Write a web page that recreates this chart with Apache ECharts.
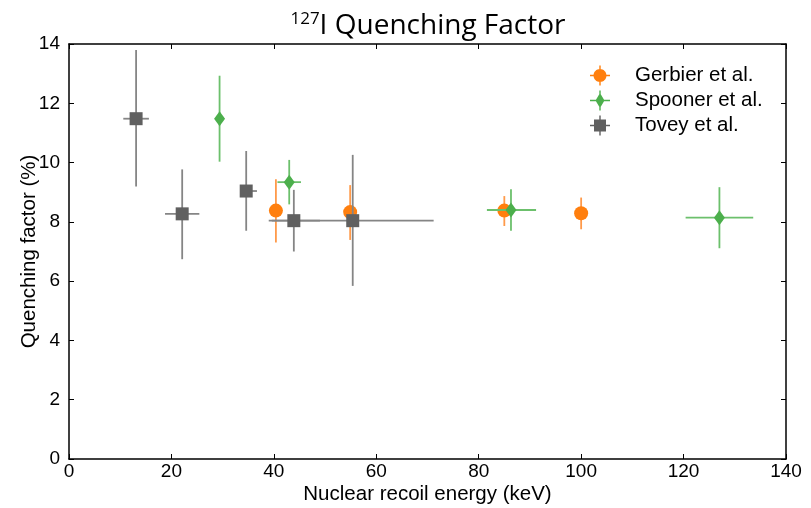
<!DOCTYPE html>
<html lang="en">
<head>
    <meta charset="UTF-8">
    <title>127I Quenching Factor</title>
    <script src="https://cdn.jsdelivr.net/npm/echarts@6/dist/echarts.min.js"></script>
    <style>
        html, body { margin: 0; padding: 0; background: #fff; }
    </style>
</head>
<body>
<div id="chart" style="width: 811px; height: 508px"></div>
<script>
    // Gerbier et al.
    var gerbierX = [40.4, 54.9, 85.0, 100.0];
    var gerbierY = [8.38, 8.33, 8.38, 8.29];
    var gerbierYLo = [7.30, 7.39, 7.86, 7.75];
    var gerbierYHi = [9.44, 9.24, 8.87, 8.82];
    var gerbierXLo = [40.4, 54.9, 85.0, 100.0];
    var gerbierXHi = [40.4, 54.9, 85.0, 100.0];

    // Spooner et al.
    var spoonerX = [29.4, 43.0, 86.3, 127.0];
    var spoonerY = [11.48, 9.34, 8.40, 8.14];
    var spoonerYLo = [10.03, 8.59, 7.70, 7.11];
    var spoonerYHi = [12.93, 10.09, 9.10, 9.17];
    var spoonerXLo = [29.4, 40.7, 81.6, 120.4];
    var spoonerXHi = [29.4, 45.3, 91.2, 133.6];

    // Tovey et al.
    var toveyX = [13.1, 22.1, 34.6, 43.9, 55.4];
    var toveyY = [11.48, 8.27, 9.04, 8.04, 8.04];
    var toveyYLo = [9.19, 6.74, 7.70, 7.00, 5.84];
    var toveyYHi = [13.80, 9.77, 10.39, 9.08, 10.26];
    var toveyXLo = [10.6, 18.75, 33.4, 39.0, 39.6];
    var toveyXHi = [15.6, 25.45, 36.7, 49.0, 71.2];

    var xTicks = [0, 20, 40, 60, 80, 100, 120, 140];
    var yTicks = [0, 2, 4, 6, 8, 10, 12, 14];

    function points(x, y) {
        var out = [];
        for (var i = 0; i < x.length; i++) out.push([x[i], y[i]]);
        return out;
    }
    function bars(x, y, ylo, yhi, xlo, xhi) {
        var out = [];
        for (var i = 0; i < x.length; i++) out.push([x[i], y[i], ylo[i], yhi[i], xlo[i], xhi[i]]);
        return out;
    }

    function errorBars(name, data, color, z) {
        return {
            name: name,
            type: 'custom',
            z: z,
            silent: true,
            encode: {x: 0, y: 1},
            data: data,
            renderItem: function (params, api) {
                var x = api.value(0), y = api.value(1);
                var a = api.coord([x, api.value(2)]);
                var b = api.coord([x, api.value(3)]);
                var c = api.coord([api.value(4), y]);
                var d = api.coord([api.value(5), y]);
                var st = {stroke: color, lineWidth: 1.8};
                return {
                    type: 'group',
                    children: [
                        {type: 'line', shape: {x1: a[0], y1: a[1], x2: b[0], y2: b[1]}, style: st},
                        {type: 'line', shape: {x1: c[0], y1: c[1], x2: d[0], y2: d[1]}, style: st}
                    ]
                };
            }
        };
    }

    var cross = 'M9.3,0h1.4v20h-1.4Z M0,9.3h20v1.4h-20Z ';
    var iconCircle = 'path://' + cross + 'M3.5,10C3.5,6.41 6.41,3.5 10,3.5C13.59,3.5 16.5,6.41 16.5,10C16.5,13.59 13.59,16.5 10,16.5C6.41,16.5 3.5,13.59 3.5,10Z';
    var iconDiamond = 'path://' + cross + 'M10,2.5L14.5,10L10,17.5L5.5,10Z';
    var iconSquare = 'path://' + cross + 'M4,4h12v12h-12Z';

    var chart = echarts.init(document.getElementById('chart'));
    var tickFont = {fontFamily: 'Liberation Sans', fontSize: 19, color: '#000'};
    var nameFont = {fontFamily: 'Liberation Sans', fontSize: 20.5, color: '#000'};

    function frameAxis(extra) {
        return Object.assign({
            type: 'value',
            nameMoveOverlap: false,
            axisLine: {show: true, onZero: false, lineStyle: {color: '#000', width: 1.5}},
            axisTick: {show: true, inside: true, length: 5, lineStyle: {color: '#000'}},
            splitLine: {show: false}
        }, extra);
    }

    var option = {
        backgroundColor: '#fff',
        animation: false,
        title: {
            text: '{sup|127}{main|I Quenching Factor}',
            left: 423,
            textAlign: 'center',
            top: 6,
            textStyle: {
                rich: {
                    sup: {fontFamily: 'Open Sans', fontWeight: 'normal', fontSize: 17, color: '#000', verticalAlign: 'top', padding: [0, 0, 14, 0]},
                    main: {fontFamily: 'Open Sans', fontWeight: 'normal', fontSize: 28, color: '#000'}
                }
            }
        },
        legend: {
            orient: 'vertical',
            left: 585,
            top: 60,
            itemWidth: 20,
            itemHeight: 20,
            itemGap: 4,
            textStyle: {fontFamily: 'Liberation Sans', fontSize: 20.5, color: '#000', padding: [0, 0, 0, 20]},
            data: [
                {name: 'Gerbier et al.', icon: iconCircle},
                {name: 'Spooner et al.', icon: iconDiamond},
                {name: 'Tovey et al.', icon: iconSquare}
            ]
        },
        grid: {left: 69, right: 25, top: 44, bottom: 49, containLabel: false, outerBoundsMode: 'none'},
        xAxis: [
            frameAxis({
                min: xTicks[0], max: xTicks[xTicks.length - 1], interval: 20,
                name: 'Nuclear recoil energy (keV)',
                nameLocation: 'middle',
                nameGap: 25,
                nameTextStyle: nameFont,
                axisLabel: Object.assign({margin: 3}, tickFont)
            }),
            frameAxis({
                position: 'top',
                min: xTicks[0], max: xTicks[xTicks.length - 1], interval: 20,
                axisLabel: {show: false}
            })
        ],
        yAxis: [
            frameAxis({
                min: yTicks[0], max: yTicks[yTicks.length - 1], interval: 2,
                name: 'Quenching factor (%)',
                nameLocation: 'middle',
                nameGap: 29,
                nameTextStyle: nameFont,
                axisLabel: Object.assign({margin: 9}, tickFont)
            }),
            frameAxis({
                position: 'right',
                min: yTicks[0], max: yTicks[yTicks.length - 1], interval: 2,
                axisLabel: {show: false}
            })
        ],
        series: [
            errorBars('gerbierErr', bars(gerbierX, gerbierY, gerbierYLo, gerbierYHi, gerbierXLo, gerbierXHi), '#ff9a4a', 2),
            {
                name: 'Gerbier et al.', type: 'scatter', z: 3, symbol: 'circle', symbolSize: 14,
                itemStyle: {color: '#ff7f0e', opacity: 1},
                data: points(gerbierX, gerbierY)
            },
            errorBars('spoonerErr', bars(spoonerX, spoonerY, spoonerYLo, spoonerYHi, spoonerXLo, spoonerXHi), '#6cc06c', 4),
            {
                name: 'Spooner et al.', type: 'scatter', z: 5, symbol: 'diamond', symbolSize: [11, 15],
                itemStyle: {color: '#4caf4c', opacity: 1},
                data: points(spoonerX, spoonerY)
            },
            errorBars('toveyErr', bars(toveyX, toveyY, toveyYLo, toveyYHi, toveyXLo, toveyXHi), '#858585', 6),
            {
                name: 'Tovey et al.', type: 'scatter', z: 7, symbol: 'rect', symbolSize: 13,
                itemStyle: {color: '#606060', opacity: 1},
                data: points(toveyX, toveyY)
            }
        ]
    };
    chart.setOption(option);
</script>
</body>
</html>
